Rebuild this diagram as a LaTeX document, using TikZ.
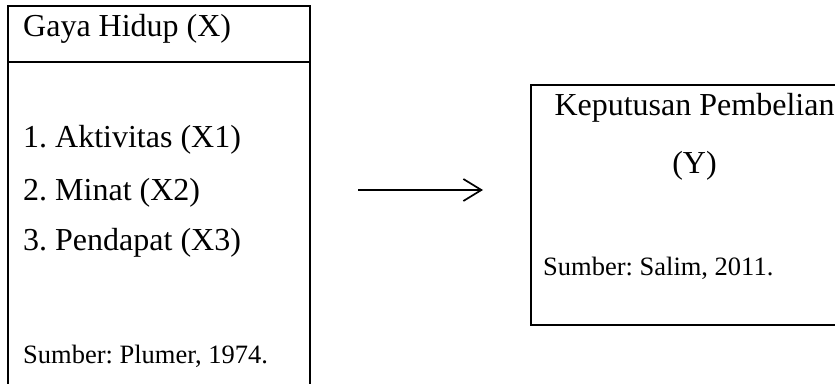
\documentclass[tikz,border=0pt]{standalone}
\usepackage{fontspec}
\setmainfont{Liberation Serif}
\usetikzlibrary{arrows.meta}
\frenchspacing
\tikzset{
  boxline/.style={draw=black, line width=1.3pt},
  bigtxt/.style={font=\fontsize{32}{38}\selectfont, inner sep=0pt, anchor=base west},
  smalltxt/.style={font=\fontsize{26.5}{32}\selectfont, inner sep=0pt, anchor=base west},
  flowarrow/.style={draw=black, line width=1.7pt, -{Straight Barb[length=18pt,width=22pt,line width=1.7pt]}}
}
\begin{document}
\begin{tikzpicture}[x=1pt,y=-1pt]
\useasboundingbox (0,0) rectangle (835,383);
\clip (0,0) rectangle (835,383);
% left box
\draw[boxline] (8,420) -- (8,6) -- (310,6) -- (310,420);
\draw[boxline] (8,62) -- (310,62);
\node[bigtxt] (gaya) at (23,36) {Gaya Hidup (X)};
\node[bigtxt] (akt) at (23,147) {1. Aktivitas (X1)};
\node[bigtxt] (minat) at (23,200) {2. Minat (X2)};
\node[bigtxt] (pend) at (23,250) {3. Pendapat (X3)};
\node[smalltxt] (sumx) at (23,363) {Sumber: Plumer, 1974.};
% right box
\draw[boxline] (880,85) -- (531,85) -- (531,325) -- (880,325);
\node[font=\fontsize{32}{38}\selectfont, inner sep=0pt, anchor=base] (kep) at (694.5,115) {Keputusan Pembelian};
\node[font=\fontsize{32}{38}\selectfont, inner sep=0pt, anchor=base] (y) at (694.5,173) {(Y)};
\node[smalltxt] (sumy) at (543,275) {Sumber: Salim, 2011.};
% arrow
\coordinate (astart) at (358,190);
\coordinate (aend) at (483,190);
\draw[flowarrow] (astart) -- (aend);
\end{tikzpicture}
\end{document}
